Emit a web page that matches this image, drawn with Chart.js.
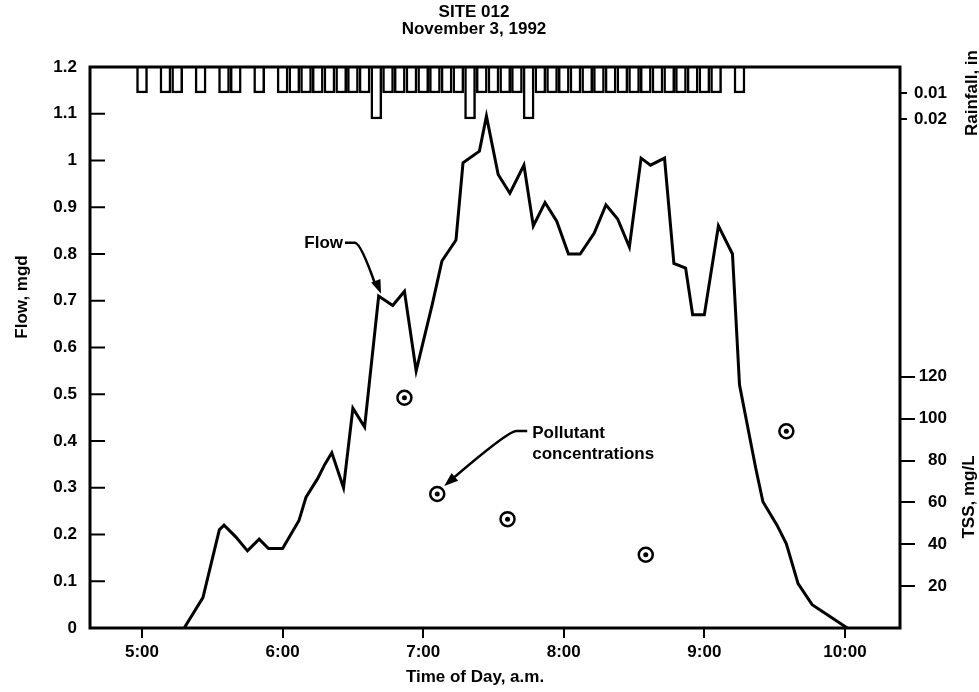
<!DOCTYPE html>
<html>
<head>
<meta charset="utf-8">
<title>SITE 012 - November 3, 1992</title>
<script src="https://cdn.jsdelivr.net/npm/chart.js@4.4.0/dist/chart.umd.min.js"></script>
<style>
  html, body { margin: 0; padding: 0; background: #fff; }
  #wrap { width: 979px; height: 692px; }
</style>
</head>
<body>
<div id="wrap"><canvas id="chart1"></canvas></div>
<script>
// flow hydrograph (time of day, mgd)
const flowTimes = [
  '5:18', '5:26', '5:33', '5:35', '5:40', '5:45', '5:50', '5:54', '6:00', '6:07',
  '6:10', '6:15', '6:18', '6:21', '6:26', '6:30', '6:35', '6:41', '6:47', '6:52',
  '6:57', '7:04', '7:08', '7:14', '7:17', '7:24', '7:27', '7:32', '7:37', '7:43',
  '7:47', '7:52', '7:57', '8:02', '8:07', '8:13', '8:18', '8:23', '8:28', '8:33',
  '8:37', '8:43', '8:47', '8:52', '8:55', '9:00', '9:06', '9:12', '9:15', '9:22',
  '9:25', '9:31', '9:35', '9:40', '9:46', '9:52', '10:01'
];
const flowMgd = [
  0, 0.065, 0.21, 0.22, 0.195, 0.165, 0.19, 0.17, 0.17, 0.23,
  0.28, 0.32, 0.35, 0.375, 0.30, 0.47, 0.43, 0.71, 0.69, 0.72,
  0.55, 0.695, 0.785, 0.83, 0.995, 1.02, 1.095, 0.97, 0.93, 0.99,
  0.86, 0.91, 0.87, 0.80, 0.80, 0.845, 0.905, 0.875, 0.815, 1.005,
  0.99, 1.005, 0.78, 0.77, 0.67, 0.67, 0.86, 0.80, 0.52, 0.34,
  0.27, 0.22, 0.18, 0.095, 0.05, 0.03, 0
];

// 5-minute rainfall, inches
const rainTimes = [
  '5:00', '5:10', '5:15', '5:25', '5:35', '5:40', '5:50',
  '6:00', '6:05', '6:10', '6:15', '6:20', '6:25', '6:30', '6:35', '6:40', '6:45',
  '6:50', '6:55', '7:00', '7:05', '7:10', '7:15', '7:20', '7:25', '7:30', '7:35',
  '7:40', '7:45', '7:50', '7:55', '8:00', '8:05', '8:10', '8:15', '8:20', '8:25',
  '8:30', '8:35', '8:40', '8:45', '8:50', '8:55', '9:00', '9:05', '9:15'
];
const rainInches = [
  0.01, 0.01, 0.01, 0.01, 0.01, 0.01, 0.01,
  0.01, 0.01, 0.01, 0.01, 0.01, 0.01, 0.01, 0.01, 0.02, 0.01,
  0.01, 0.01, 0.01, 0.01, 0.01, 0.01, 0.02, 0.01, 0.01, 0.01,
  0.01, 0.02, 0.01, 0.01, 0.01, 0.01, 0.01, 0.01, 0.01, 0.01,
  0.01, 0.01, 0.01, 0.01, 0.01, 0.01, 0.01, 0.01, 0.01
];

// TSS grab samples, mg/L
const tssTimes = ['6:52', '7:06', '7:36', '8:35', '9:35'];
const tssMgL = [110, 64, 52, 35, 94];

const timeTicks = ['5:00', '6:00', '7:00', '8:00', '9:00', '10:00'];
const tssTicks = [20, 40, 60, 80, 100, 120];
const rainTicks = [0.01, 0.02];

const FONT = '"Liberation Sans", Arial, Helvetica, sans-serif';
Chart.defaults.font.family = FONT;
Chart.defaults.font.size = 17;
Chart.defaults.font.weight = 'bold';
Chart.defaults.color = '#000';

function toMin(s) {
  const [h, m] = s.split(':').map(Number);
  return h * 60 + m;
}

function fmtTime(v) {
  return Math.floor(v / 60) + ':' + String(v % 60).padStart(2, '0');
}

const flowData = flowTimes.map((t, i) => ({ x: toMin(t), y: flowMgd[i] }));
const rainData = rainTimes.map((t, i) => ({ x: toMin(t), y: rainInches[i] }));
const tssData = tssTimes.map((t, i) => ({ x: toMin(t), y: tssMgL[i] }));

function arrowHead(c, from, tip) {
  const a = Math.atan2(tip.y - from.y, tip.x - from.x);
  const len = 14, half = 5;
  c.beginPath();
  c.moveTo(tip.x, tip.y);
  c.lineTo(tip.x - len * Math.cos(a) + half * Math.sin(a), tip.y - len * Math.sin(a) - half * Math.cos(a));
  c.lineTo(tip.x - len * Math.cos(a) - half * Math.sin(a), tip.y - len * Math.sin(a) + half * Math.cos(a));
  c.closePath();
  c.fill();
}

// frame, inward flow ticks, rainfall axis, titles and callouts
const extras = {
  id: 'extras',
  afterDraw(chart) {
    const c = chart.ctx;
    const area = chart.chartArea;
    const sx = chart.scales.x, sy = chart.scales.y, rain = chart.scales.rain, tss = chart.scales.tss;
    c.save();
    c.strokeStyle = '#000';
    c.fillStyle = '#000';

    c.lineWidth = 3;
    c.strokeRect(area.left, area.top, area.right - area.left, area.bottom - area.top);

    c.lineWidth = 2;
    sy.ticks.forEach(t => {
      const y = sy.getPixelForValue(t.value);
      c.beginPath();
      c.moveTo(area.left, y);
      c.lineTo(area.left + 15, y);
      c.stroke();
    });

    c.font = 'bold 17px ' + FONT;
    c.textAlign = 'right';
    c.textBaseline = 'middle';
    rainTicks.forEach(v => {
      const y = rain.getPixelForValue(v);
      c.beginPath();
      c.moveTo(area.right, y);
      c.lineTo(area.right + 7, y);
      c.stroke();
      c.fillText(String(v), area.right + 47, y);
    });

    c.textAlign = 'center';
    c.fillText('SITE 012', 474, 12);
    c.fillText('November 3, 1992', 474, 29);
    c.fillText('Time of Day, a.m.', 475, 677);

    c.save();
    c.translate(22, 297);
    c.rotate(-Math.PI / 2);
    c.fillText('Flow, mgd', 0, 0);
    c.restore();

    c.save();
    c.translate(969, 497);
    c.rotate(-Math.PI / 2);
    c.fillText('TSS, mg/L', 0, 0);
    c.restore();

    c.save();
    c.translate(972, 93);
    c.rotate(-Math.PI / 2);
    c.fillText('Rainfall, in', 0, 0);
    c.restore();

    // "Flow" callout pointing at the 6:42 peak
    const tip = { x: sx.getPixelForValue(toMin('6:42')), y: sy.getPixelForValue(0.715) };
    const fs = { x: tip.x - 36, y: tip.y - 51 };
    const fe = { x: tip.x - 26, y: tip.y - 51 };
    c.lineWidth = 2.5;
    c.beginPath();
    c.moveTo(fs.x, fs.y);
    c.lineTo(fe.x, fe.y);
    c.quadraticCurveTo(fe.x + 6, fe.y + 1, tip.x - 6, tip.y - 10);
    c.stroke();
    arrowHead(c, { x: fe.x + 6, y: fe.y + 1 }, tip);
    c.textAlign = 'right';
    c.fillText('Flow', fs.x - 2, fs.y + 1);

    // pollutant callout on the 7:06 sample
    const cp = { x: sx.getPixelForValue(tssData[1].x), y: tss.getPixelForValue(tssData[1].y) };
    const pTip = { x: cp.x + 7, y: cp.y - 8 };
    const ps = { x: cp.x + 90, y: cp.y - 63 };
    const pe = { x: cp.x + 79, y: cp.y - 63 };
    c.beginPath();
    c.moveTo(ps.x, ps.y);
    c.lineTo(pe.x, pe.y);
    c.quadraticCurveTo(pe.x - 8, pe.y, pTip.x + 8, pTip.y - 7);
    c.stroke();
    arrowHead(c, { x: pe.x - 8, y: pe.y }, pTip);
    c.textAlign = 'left';
    c.fillText('Pollutant', cp.x + 95, cp.y - 61);
    c.fillText('concentrations', cp.x + 95, cp.y - 40);

    c.restore();
  }
};

let ctx = document.getElementById('chart1').getContext('2d');

let myChart = new Chart(ctx, {
  data: {
    datasets: [{
      type: 'bar',
      label: 'Rainfall',
      data: rainData,
      yAxisID: 'rain',
      backgroundColor: '#fff',
      borderColor: '#000',
      borderWidth: 2.5,
      barThickness: 11,
      order: 3
    }, {
      type: 'line',
      label: 'Flow',
      data: flowData,
      yAxisID: 'y',
      borderColor: '#000',
      borderWidth: 3,
      pointRadius: 0,
      tension: 0,
      fill: false,
      order: 2
    }, {
      type: 'scatter',
      label: 'TSS',
      data: tssData,
      yAxisID: 'tss',
      pointStyle: 'circle',
      pointRadius: 7,
      pointBorderWidth: 2.5,
      pointBackgroundColor: '#fff',
      pointBorderColor: '#000',
      order: 1
    }, {
      type: 'scatter',
      label: 'TSS dot',
      data: tssData,
      yAxisID: 'tss',
      pointStyle: 'circle',
      pointRadius: 2.5,
      pointBorderWidth: 0,
      pointBackgroundColor: '#000',
      order: 0
    }]
  },
  options: {
    responsive: true,
    maintainAspectRatio: false,
    animation: false,
    layout: { padding: { top: 67, left: 0, right: 32, bottom: 0 } },
    plugins: {
      legend: { display: false },
      tooltip: { enabled: false },
      title: { display: false }
    },
    scales: {
      x: {
        type: 'linear',
        offset: false,
        min: 277.8,
        max: 623.5,
        afterBuildTicks: s => { s.ticks = timeTicks.map(t => ({ value: toMin(t) })); },
        afterFit: s => { s.height = 64; },
        ticks: { callback: v => fmtTime(v), padding: 4, maxRotation: 0 },
        grid: { offset: false, drawOnChartArea: false, color: '#000', lineWidth: 2, tickLength: 10 },
        border: { display: false }
      },
      y: {
        position: 'left',
        min: 0,
        max: 1.2,
        afterFit: s => { s.width = 90; },
        ticks: { stepSize: 0.1, padding: 13, callback: v => String(Math.round(v * 10) / 10) },
        grid: { drawOnChartArea: false, drawTicks: false },
        border: { display: false }
      },
      tss: {
        position: 'right',
        min: 0,
        max: 268,
        afterBuildTicks: s => { s.ticks = tssTicks.map(v => ({ value: v })); },
        afterFit: s => { s.width = 47; },
        ticks: { crossAlign: 'far', padding: 4 },
        grid: { drawOnChartArea: false, color: '#000', lineWidth: 2, tickLength: 15 },
        border: { display: false }
      },
      rain: {
        position: 'right',
        reverse: true,
        min: 0,
        max: 0.2158,
        afterFit: s => { s.width = 0; },
        ticks: { display: false },
        grid: { display: false },
        border: { display: false }
      }
    }
  },
  plugins: [extras]
});
</script>
</body>
</html>
